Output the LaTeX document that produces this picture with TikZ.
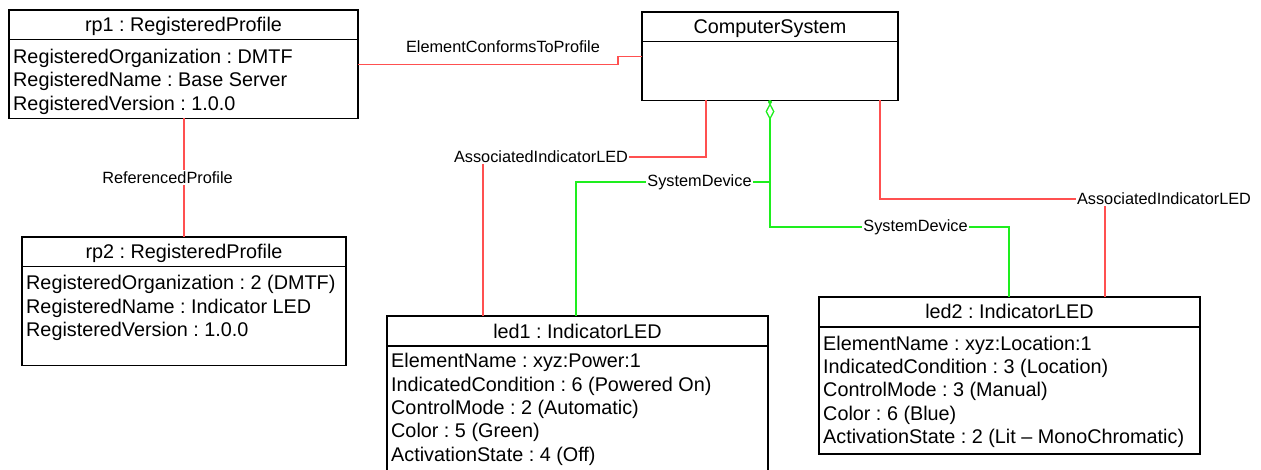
\documentclass[tikz,border=0pt]{standalone}
\usepackage{fontspec}
\setmainfont{Liberation Sans}
\usetikzlibrary{positioning}
\usetikzlibrary{arrows.meta}

\newcommand{\objfont}{\fontsize{19.8}{24}\selectfont\frenchspacing}
\newcommand{\lblfont}{\fontsize{16.3}{19}\selectfont}
\definecolor{assocred}{RGB}{255,80,80}
\definecolor{devgreen}{RGB}{30,238,30}

\tikzset{
objhead/.style={draw,line width=1.2pt,outer sep=0pt,minimum height=29.5pt,inner sep=0pt,text height=17pt,text depth=3pt,font=\objfont},
objbody/.style={draw,line width=1.2pt,outer sep=0pt,inner sep=0pt},
objattr/.style={anchor=base west,inner sep=0pt,font=\objfont},
assocline/.style={draw=assocred,line width=1.8pt},
devline/.style={draw=devgreen,line width=1.8pt},
linklabel/.style={font=\lblfont,fill=white,inner sep=1.5pt},
}

\begin{document}
\begin{tikzpicture}[x=1pt,y=-1pt]
\useasboundingbox (0,0) rectangle (1261,470);
\clip (0,0) rectangle (1261,470);

% profiles
\node[objhead,anchor=north west,minimum width=349pt] (rp1h) at (9,10) {rp1 : RegisteredProfile};
\node[objbody,minimum width=349pt,minimum height=79pt,below=0pt of rp1h] (rp1b) {};
\foreach \txt [count=\i] in {RegisteredOrganization : DMTF,RegisteredName : Base Server,RegisteredVersion : 1.0.0}
  \node[objattr] at ([xshift=4pt,yshift=-\i*23.6pt]rp1b.north west) {\txt};

\node[objhead,anchor=north west,minimum width=324pt] (rp2h) at (22,237) {rp2 : RegisteredProfile};
\node[objbody,minimum width=324pt,minimum height=99pt,below=0pt of rp2h] (rp2b) {};
\foreach \txt [count=\i] in {RegisteredOrganization : 2 (DMTF),RegisteredName : Indicator LED,RegisteredVersion : 1.0.0}
  \node[objattr] at ([xshift=4pt,yshift=-\i*23.4pt]rp2b.north west) {\txt};

% system
\node[objhead,anchor=north west,minimum width=256pt] (csh) at (642,12) {ComputerSystem};
\node[objbody,minimum width=256pt,minimum height=59pt,below=0pt of csh] (csb) {};

% leds
\node[objhead,anchor=north west,minimum width=381pt,minimum height=30pt] (led1h) at (387,316) {led1 : IndicatorLED};
\node[objbody,minimum width=381pt,minimum height=134pt,below=0pt of led1h] (led1b) {};
\foreach \txt [count=\i] in {ElementName : xyz:Power:1,IndicatedCondition : 6 (Powered On),ControlMode : 2 (Automatic),Color : 5 (Green),ActivationState : 4 (Off)}
  \node[objattr] at ([xshift=4pt,yshift=1.5pt-\i*23.3pt]led1b.north west) {\txt};

\node[objhead,anchor=north west,minimum width=381pt,minimum height=30pt] (led2h) at (819,297) {led2 : IndicatorLED};
\node[objbody,minimum width=381pt,minimum height=127pt,below=0pt of led2h] (led2b) {};
\foreach \txt [count=\i] in {ElementName : xyz:Location:1,IndicatedCondition : 3 (Location),ControlMode : 3 (Manual),Color : 6 (Blue),ActivationState : 2 (Lit -- MonoChromatic)}
  \node[objattr] at ([xshift=4pt,yshift=-\i*23.3pt]led2b.north west) {\txt};

% associations
\draw[assocline] ([yshift=14.5pt]rp1b.east) -- ++(260,0) |- ([yshift=14.5pt]csb.west);
\node[linklabel,fill=none] (ectp) at (503,46.5) {ElementConformsToProfile};

\draw[assocline] ([xshift=0.5pt]rp1b.south) -- ([xshift=0.5pt]rp1b.south |- rp2h.north);
\node[linklabel] (refp) at (167.5,177.5) {ReferencedProfile};

\draw[assocline] ([xshift=-64pt]csb.south) -- ++(0,56.5) -| ([xshift=-94.5pt]led1h.north);
\node[linklabel] (ail1) at (541,157) {AssociatedIndicatorLED};

\draw[assocline] ([xshift=110pt]csb.south) -- ++(0,98.5) -| ([xshift=95.5pt]led2h.north);
\node[linklabel] (ail2) at (1164,199) {AssociatedIndicatorLED};

% system devices
\draw[devline,{Diamond[open,fill=white,length=17pt,width=9pt,line width=1.3pt]}-,shorten <=2.5pt] (csb.south) -- ++(0,126.5) -| ([xshift=-0.5pt]led2h.north);
\draw[devline] ([yshift=-81.5pt]csb.south) -| ([xshift=-1.5pt]led1h.north);
\fill[devgreen] ([yshift=-1.5pt]csb.south) circle (2pt);
\node[linklabel] (sd1) at (699.5,182) {SystemDevice};
\node[linklabel] (sd2) at (915.5,227) {SystemDevice};

\end{tikzpicture}
\end{document}
